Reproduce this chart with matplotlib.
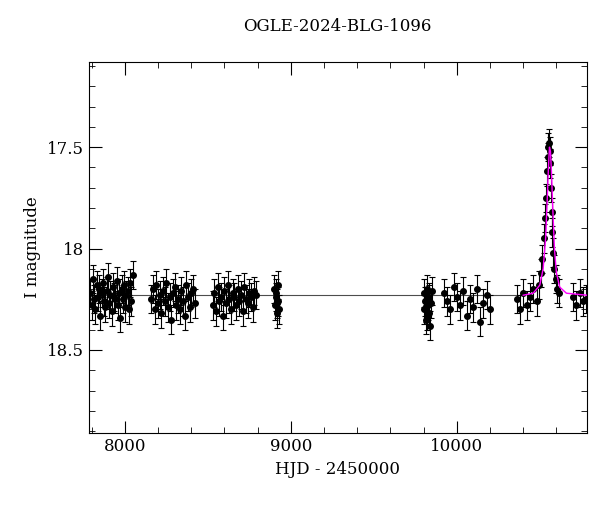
import matplotlib
matplotlib.use("Agg")
import matplotlib.pyplot as plt
from matplotlib.ticker import MultipleLocator

plt.rcParams["font.family"] = "DejaVu Serif"

hjd = [7790,7800,7808,7815,7822,7830,7838,7845,7852,7860,7868,7875,7882,7890,7898,7905,7912,7920,7928,7935,7942,7950,7958,7965,7972,7980,7988,7995,8002,8010,8018,8025,8032,8040,8048,
       8160,8170,8180,8190,8200,8210,8220,8230,8240,8250,8260,8270,8280,8290,8300,8310,8320,8330,8340,8350,8360,8370,8380,8390,8400,8410,8420,
       8530,8540,8550,8560,8570,8580,8590,8600,8610,8620,8630,8640,8650,8660,8670,8680,8690,8700,8710,8720,8730,8740,8750,8760,8770,8780,8790,
       8900,8905,8910,8915,8920,8925,8930,8908,8918,
       9800,9805,9810,9815,9820,9825,9830,9835,9840,9845,9850,9812,9822,9832,
       9920,9940,9960,9980,10000,10020,10040,10060,10080,10100,10120,10140,10160,10180,10200,
       10360,10380,10400,10420,10440,10460,10480,10495,10505,10515,10525,10532,10538,10544,10548,10552,10556,10560,10564,10568,10572,10576,10582,10588,10595,10605,10615,10700,10720,10740,10760,10780]
mag = [18.22,18.28,18.15,18.25,18.30,18.18,18.24,18.20,18.33,18.22,18.17,18.26,18.29,18.21,18.14,18.27,18.23,18.31,18.19,18.24,18.25,18.16,18.28,18.22,18.34,18.20,18.25,18.18,18.29,18.23,18.21,18.30,18.17,18.26,18.13,
       18.25,18.20,18.30,18.18,18.27,18.23,18.32,18.21,18.26,18.17,18.29,18.24,18.35,18.22,18.19,18.28,18.25,18.30,18.21,18.26,18.33,18.18,18.24,18.29,18.22,18.20,18.27,
       18.28,18.22,18.31,18.19,18.26,18.24,18.33,18.21,18.27,18.18,18.25,18.30,18.22,18.24,18.28,18.20,18.26,18.23,18.31,18.19,18.25,18.27,18.22,18.24,18.29,18.21,18.23,
       18.20,18.28,18.24,18.32,18.18,18.26,18.30,18.22,18.27,
       18.22,18.30,18.26,18.35,18.20,18.28,18.32,18.24,18.38,18.27,18.21,18.29,18.33,18.25,
       18.22,18.26,18.30,18.19,18.24,18.28,18.21,18.33,18.25,18.29,18.20,18.36,18.27,18.23,18.30,
       18.25,18.30,18.22,18.28,18.24,18.20,18.26,18.18,18.12,18.05,17.95,17.85,17.75,17.62,17.55,17.50,17.48,17.52,17.58,17.70,17.82,17.92,18.02,18.10,18.15,18.20,18.22,18.24,18.28,18.22,18.26,18.25]
err = [0.07]*len(hjd)

# Model curve
mod_t = [7783,10400,10460,10500,10520,10535,10545,10552,10558,10564,10570,10578,10588,10600,10620,10660,10783]
mod_m = [18.23,18.23,18.22,18.18,18.10,17.95,17.75,17.60,17.50,17.52,17.62,17.80,18.00,18.12,18.19,18.22,18.23]
base_end = 10460

fig, ax = plt.subplots(figsize=(6.0, 5.12), dpi=100)
fig.subplots_adjust(left=0.148, right=0.978, top=0.879, bottom=0.154)
ax.errorbar(hjd, mag, yerr=err, fmt="o", color="black", ms=4, elinewidth=0.8, capsize=2, capthick=0.8, zorder=3)
ax.plot(mod_t[:2], mod_m[:2], color="0.3", lw=0.8, zorder=2)
ax.plot(mod_t[1:], mod_m[1:], color="magenta", lw=1.0, zorder=4)
ax.set_xlim(7783, 10783)
ax.set_ylim(18.91, 17.08)
ax.xaxis.set_major_locator(MultipleLocator(1000))
ax.xaxis.set_minor_locator(MultipleLocator(200))
ax.yaxis.set_major_locator(MultipleLocator(0.5))
ax.yaxis.set_minor_locator(MultipleLocator(0.1))
ax.set_yticks([17.5, 18, 18.5])
ax.set_yticklabels(["17.5", "18", "18.5"])
ax.tick_params(which="both", direction="in", top=True, right=True, labelsize=12)
ax.tick_params(which="major", length=9)
ax.tick_params(which="minor", length=4)
ax.set_xlabel("HJD - 2450000", fontsize=12)
ax.set_ylabel("I magnitude", fontsize=12)
ax.set_title("OGLE-2024-BLG-1096", fontsize=12, pad=22)
fig.savefig("out.png")
